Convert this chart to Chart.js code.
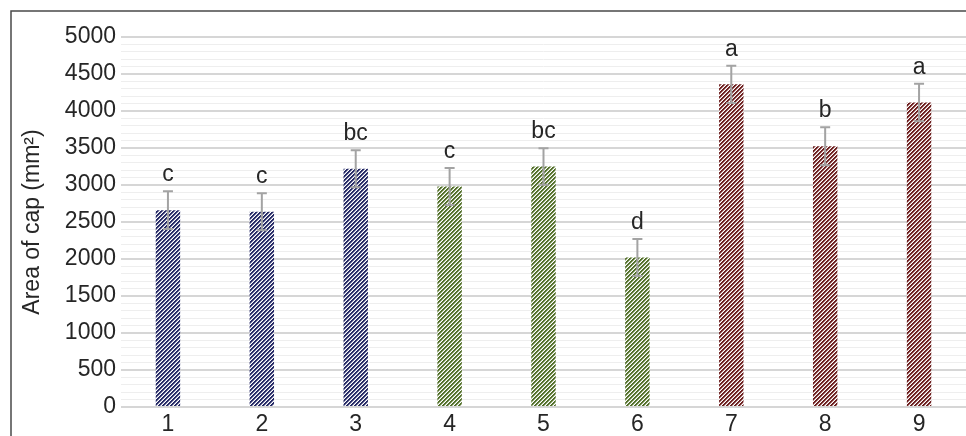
<!DOCTYPE html>
<html>
<head>
<meta charset="utf-8">
<script src="https://cdn.jsdelivr.net/npm/chart.js@4/dist/chart.umd.min.js"></script>
<style>
  html, body { margin: 0; padding: 0; background: #ffffff; }
  #wrap { width: 966px; height: 436px; position: relative; }
</style>
</head>
<body>
<div id="wrap"><canvas id="c" width="966" height="436"></canvas></div>
<script>
const categories = ['1', '2', '3', '4', '5', '6', '7', '8', '9'];
const capArea = [2660, 2640, 3220, 2980, 3250, 2020, 4360, 3525, 4115];
const capError = [255, 250, 250, 250, 245, 250, 252, 257, 252];
const groupLetters = ['c', 'c', 'bc', 'c', 'bc', 'd', 'a', 'b', 'a'];
const groupOfBar = [0, 0, 0, 1, 1, 1, 2, 2, 2];
const groupColors = ['#262a66', '#53702a', '#6e2020'];
const yTickLabels = [0, 500, 1000, 1500, 2000, 2500, 3000, 3500, 4000, 4500, 5000];
const yTitle = 'Area of cap (mm\u00B2)';

const FONT = '"Liberation Sans", Arial, sans-serif';
const TEXT = '#262626';
const FS = 23;

function makePattern(color) {
  const t = document.createElement('canvas');
  t.width = 4; t.height = 4;
  const g = t.getContext('2d');
  g.fillStyle = '#ffffff';
  g.fillRect(0, 0, 4, 4);
  g.fillStyle = color;
  for (let i = 0; i < 4; i++) {
    g.fillRect(i, 3 - i, 1, 1);
    g.fillRect(i, (4 - i) % 4, 1, 1);
  }
  g.globalAlpha = 0.45;
  for (let i = 0; i < 4; i++) {
    g.fillRect(i, (5 - i) % 4, 1, 1);
  }
  return g.createPattern(t, 'repeat');
}
const patterns = groupColors.map(makePattern);

const decor = {
  id: 'decor',
  afterDraw(chart) {
    const c = chart.ctx;
    c.save();
    c.strokeStyle = '#4a4a4a';
    c.lineWidth = 1.5;
    c.beginPath();
    c.moveTo(11, 436);
    c.lineTo(11, 11);
    c.lineTo(966, 11);
    c.stroke();
    const ca = chart.chartArea;
    c.translate(33, (ca.top + ca.bottom) / 2);
    c.rotate(-Math.PI / 2);
    c.fillStyle = TEXT;
    c.font = FS + 'px ' + FONT;
    c.textAlign = 'center';
    c.textBaseline = 'middle';
    c.fillText(yTitle, 0, 0);
    c.restore();
  },
  afterDatasetsDraw(chart) {
    const c = chart.ctx;
    const meta = chart.getDatasetMeta(0);
    const y = chart.scales.y;
    c.save();
    meta.data.forEach((bar, i) => {
      const x = bar.x;
      const hi = y.getPixelForValue(capArea[i] + capError[i]);
      const lo = y.getPixelForValue(capArea[i] - capError[i]);
      c.strokeStyle = '#a3a3a3';
      c.lineWidth = 2;
      c.beginPath();
      c.moveTo(x, hi); c.lineTo(x, lo);
      c.moveTo(x - 5, hi); c.lineTo(x + 5, hi);
      c.moveTo(x - 5, lo); c.lineTo(x + 5, lo);
      c.stroke();
      c.fillStyle = TEXT;
      c.font = FS + 'px ' + FONT;
      c.textAlign = 'center';
      c.textBaseline = 'alphabetic';
      c.fillText(groupLetters[i], x, hi - 10);
    });
    c.restore();
  }
};

new Chart(document.getElementById('c'), {
  type: 'bar',
  data: {
    labels: categories,
    datasets: [{
      data: capArea,
      backgroundColor: capArea.map((v, i) => patterns[groupOfBar[i]]),
      borderWidth: 0,
      barPercentage: 0.26,
      categoryPercentage: 1.0
    }]
  },
  options: {
    responsive: false,
    animation: false,
    devicePixelRatio: 1,
    layout: { padding: { top: 37, right: 0, bottom: 0, left: 0 } },
    plugins: { legend: { display: false }, tooltip: { enabled: false } },
    scales: {
      x: {
        grid: { display: false, drawTicks: false },
        border: { display: false },
        ticks: { color: TEXT, font: { family: FONT, size: FS }, padding: 4, maxRotation: 0 },
        afterFit(s) { s.height = 29; }
      },
      y: {
        min: 0, max: 5000,
        border: { display: false },
        grid: {
          drawTicks: false,
          color: ctx => (ctx.tick && ctx.tick.value % 500 === 0) ? '#d6d6d6' : '#eeeeee',
          lineWidth: ctx => (ctx.tick && ctx.tick.value % 500 === 0) ? 2 : 1
        },
        ticks: {
          stepSize: 100,
          autoSkip: false,
          padding: 5,
          color: TEXT,
          font: { family: FONT, size: FS },
          callback: v => yTickLabels.includes(v) ? String(v) : ''
        },
        afterFit(s) { s.width = 121; }
      }
    }
  },
  plugins: [decor]
});
</script>
</body>
</html>
